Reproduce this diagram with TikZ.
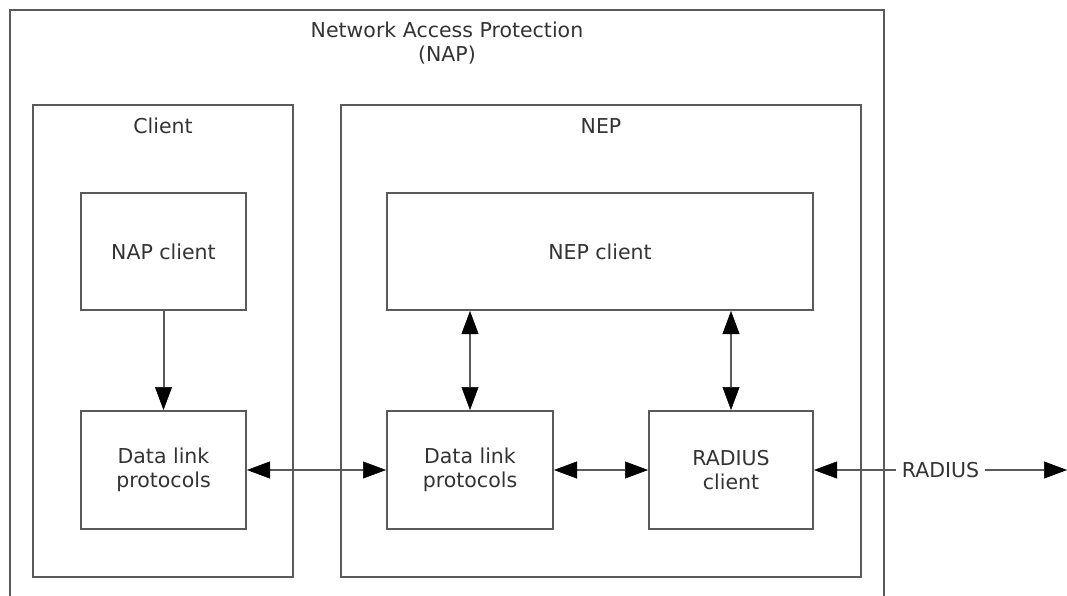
\documentclass[tikz,border=0pt]{standalone}
\usepackage{fontspec}
\setmainfont{DejaVu Sans}
\usetikzlibrary{arrows.meta}
\definecolor{linegray}{HTML}{5A5A5A}
\definecolor{textgray}{HTML}{333333}
\begin{document}
\begin{tikzpicture}[x=1pt,y=-1pt,
  font=\fontsize{20.5}{24}\selectfont,
  box/.style={draw=linegray,line width=2pt,fill=white,text=textgray,align=center,inner sep=0pt},
  frame/.style={draw=linegray,line width=2pt},
  lbl/.style={text=textgray,align=center,inner sep=0pt},
  tip/.style={Triangle[length=23pt,width=17pt,black,line width=0.5pt]},
  conn/.style={draw=linegray,line width=2pt,{Triangle[length=23pt,width=17pt,black,line width=0.5pt]}-{Triangle[length=23pt,width=17pt,black,line width=0.5pt]}},
  oneway/.style={draw=linegray,line width=2pt,-{Triangle[length=23pt,width=17pt,black,line width=0.5pt]}}]
\useasboundingbox (0,0) rectangle (1067,596);
\begin{scope}
\clip (0,0) rectangle (1067,596);
\draw[frame] (10,10) rectangle (884,640);
\end{scope}
\node[lbl] (naptitle) at (447,43) {Network Access Protection\\(NAP)};
\draw[frame] (33,105) rectangle (293,577);
\node[lbl] (clienttitle) at (163,126) {Client};
\draw[frame] (341,105) rectangle (861,577);
\node[lbl] (neptitle) at (601,126) {NEP};
\node[box,minimum width=165pt,minimum height=117pt] (napc) at (163.5,251.5) {NAP client};
\node[box,minimum width=165pt,minimum height=118pt] (dll) at (163.5,470) {Data link\\protocols};
\node[box,minimum width=426pt,minimum height=117pt] (nepc) at (600,251.5) {NEP client};
\node[box,minimum width=166pt,minimum height=118pt] (dlr) at (470,470) {Data link\\protocols};
\node[box,minimum width=164pt,minimum height=118pt] (radc) at (731,470) {RADIUS\\client};
\coordinate (radend) at (1067,470);
\draw[oneway] (napc) -- (dll);
\draw[conn] (dll) -- (dlr);
\draw[conn] (dlr) -- (radc);
\draw[conn] (nepc.south -| dlr.north) -- (dlr.north);
\draw[conn] (nepc.south -| radc.north) -- (radc.north);
\draw[conn] (radc.east) -- node[lbl,fill=white,inner xsep=6pt,inner ysep=2pt] (radlbl) {RADIUS} (radend);
\end{tikzpicture}
\end{document}
